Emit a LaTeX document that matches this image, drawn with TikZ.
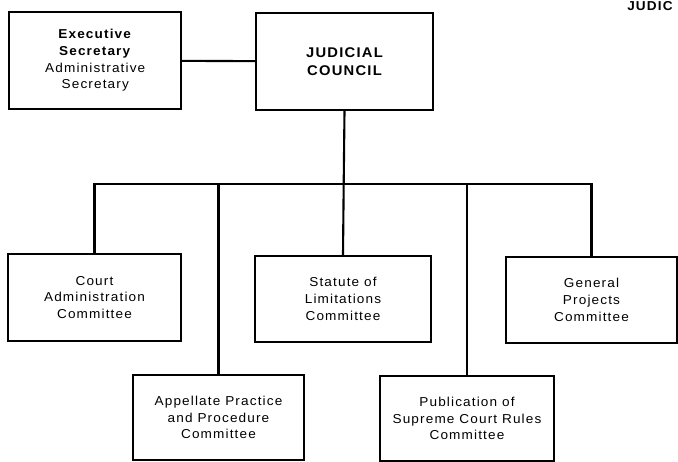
\documentclass[tikz,border=0pt]{standalone}
\usepackage{fontspec}
\setmainfont{Liberation Sans}[FakeStretch=1.05,LetterSpace=8.8]

\begin{document}
\begin{tikzpicture}[x=0.025cm,y=-0.025cm,
    unit/.style={draw,line width=1.5pt,align=center,inner sep=0pt,
      font=\fontsize{9.2}{11.9}\selectfont},
    link/.style={line width=1.5pt}]
  \useasboundingbox (0,0) rectangle (678,461);

  % Top row
  \node[unit,minimum width=4.29cm,minimum height=2.43cm] (exec) at (95.25,60.5)
    {\textbf{Executive}\\\textbf{Secretary}\\Administrative\\Secretary};
  \node[unit,minimum width=4.43cm,minimum height=2.43cm,
    font=\fontsize{10}{12.6}\selectfont\bfseries] (council) at (344.5,61.5)
    {JUDICIAL\\COUNCIL};
  \node[anchor=base west,inner sep=0pt,font=\fontsize{9.2}{12.6}\selectfont\bfseries]
    (header) at (627,10.5) {JUDIC};

  % Committees
  \node[unit,minimum width=4.33cm,minimum height=2.18cm] (court) at (94.5,297.5)
    {Court\\Administration\\Committee};
  \node[unit,minimum width=4.4cm,minimum height=2.15cm] (statute) at (343,299)
    {Statute of\\Limitations\\Committee};
  \node[unit,minimum width=4.28cm,minimum height=2.15cm] (general) at (591.5,300)
    {General\\Projects\\Committee};
  \node[unit,minimum width=4.28cm,minimum height=2.13cm] (appellate) at (218.5,417.5)
    {Appellate Practice\\and Procedure\\Committee};
  \node[unit,minimum width=4.35cm,minimum height=2.13cm] (publication) at (467,418.5)
    {Publication of\\Supreme Court Rules\\Committee};

  % Connectors
  \coordinate (bus) at (343.7,184);
  \draw[link] (exec) -- (council);
  \draw[link] (council.south) -- (bus) -- (statute.north);
  \draw[link] (court.north) -- (court.north |- bus) -- (general.north |- bus)
    -- (general.north);
  \foreach \n in {appellate,publication} {
    \draw[link] (\n.north) -- (\n.north |- bus);
  }
\end{tikzpicture}
\end{document}
